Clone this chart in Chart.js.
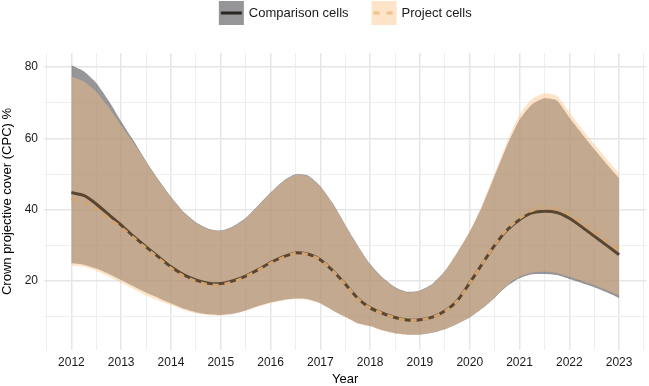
<!DOCTYPE html>
<html>
<head>
<meta charset="utf-8">
<script src="https://cdn.jsdelivr.net/npm/chart.js@4.4.1/dist/chart.umd.min.js"></script>
<style>
  html, body { margin: 0; padding: 0; background: #ffffff; }
  #wrap { width: 649px; height: 386px; }
</style>
</head>
<body>
<div id="wrap"><canvas id="cpcChart" width="649" height="386"></canvas></div>
<script>
// quarterly time steps
var years = [
  2012, 2012.25, 2012.5, 2012.75, 2013, 2013.25, 2013.5, 2013.75,
  2014, 2014.25, 2014.5, 2014.75, 2015, 2015.25, 2015.5, 2015.75,
  2016, 2016.25, 2016.5, 2016.75, 2017, 2017.25, 2017.5, 2017.75,
  2018, 2018.25, 2018.5, 2018.75, 2019, 2019.25, 2019.5, 2019.75,
  2020, 2020.25, 2020.5, 2020.75, 2021, 2021.25, 2021.5, 2021.75,
  2022, 2022.25, 2022.5, 2022.75, 2023
];

var comparisonMean = [
  44.8, 44.0, 41.6, 38.6, 35.7, 32.5, 29.6, 26.8,
  24.0, 21.8, 20.3, 19.4, 19.3, 20.1, 21.4, 23.2,
  25.2, 26.8, 27.9, 27.6, 26.0, 22.9, 19.2, 15.2,
  12.5, 11.0, 9.8, 9.1, 9.2, 9.9, 11.6, 14.5,
  19.5, 24.8, 30.0, 34.3, 37.2, 39.1, 39.6, 39.2,
  37.6, 35.2, 32.6, 30.0, 27.4
];
var comparisonUpper = [
  80.5, 78.8, 75.5, 70.5, 64.7, 59.3, 53.6, 48.4,
  43.6, 39.4, 36.5, 34.7, 34.2, 35.4, 37.7, 41.2,
  44.8, 48.0, 49.9, 49.6, 46.6, 41.8, 35.8, 30.0,
  24.8, 21.0, 18.3, 17.0, 17.4, 19.2, 22.8, 28.0,
  33.8, 41.0, 49.5, 58.0, 65.2, 69.5, 71.2, 70.6,
  65.8, 61.3, 57.0, 52.8, 48.8
];
var comparisonLower = [
  25.0, 24.6, 23.5, 22.0, 20.3, 18.5, 16.8, 15.3,
  13.8, 12.3, 11.3, 10.7, 10.5, 10.9, 11.8, 13.0,
  14.0, 14.7, 15.1, 14.9, 13.8, 11.8, 10.0, 8.2,
  7.4, 6.2, 5.4, 5.0, 5.0, 5.5, 6.5, 8.0,
  9.8, 12.3, 15.3, 18.6, 20.8, 21.9, 22.0, 21.7,
  20.6, 19.5, 18.3, 16.9, 15.3
];

var projectMean = [
  43.0, 42.2, 40.2, 37.6, 35.0, 32.1, 29.2, 26.4,
  23.6, 21.4, 19.9, 19.0, 18.9, 19.8, 21.2, 23.0,
  25.0, 26.6, 27.8, 27.5, 25.9, 22.8, 19.1, 15.1,
  12.4, 10.9, 9.7, 9.0, 9.1, 9.8, 11.5, 14.4,
  19.4, 24.8, 30.1, 34.6, 37.6, 39.8, 40.5, 40.2,
  38.7, 36.4, 34.0, 31.4, 28.8
];
var projectUpper = [
  77.3, 75.9, 73.0, 68.6, 63.6, 58.7, 53.4, 48.2,
  43.4, 39.2, 36.3, 34.5, 34.0, 35.2, 37.5, 41.0,
  44.6, 47.8, 49.7, 49.4, 46.4, 41.6, 35.6, 29.8,
  24.6, 20.8, 18.1, 16.8, 17.2, 19.0, 22.7, 28.0,
  34.0, 41.4, 50.2, 59.0, 66.6, 71.0, 72.6, 71.9,
  67.3, 62.7, 58.4, 54.2, 50.2
];
var projectLower = [
  24.4, 24.0, 22.9, 21.3, 19.6, 17.8, 16.0, 14.6,
  13.3, 11.9, 11.0, 10.5, 10.3, 10.8, 11.7, 12.9,
  13.9, 14.6, 15.0, 14.8, 13.7, 11.7, 9.9, 8.1,
  7.3, 6.1, 5.3, 4.9, 5.0, 5.5, 6.5, 8.0,
  9.9, 12.4, 15.5, 18.9, 21.3, 22.4, 22.6, 22.3,
  21.2, 20.1, 18.9, 17.5, 16.0
];

// axis ticks (labels on integers / multiples of 20, the rest are minor grid lines)
var xTickValues = [2011.5, 2012, 2012.5, 2013, 2013.5, 2014, 2014.5, 2015, 2015.5, 2016, 2016.5,
  2017, 2017.5, 2018, 2018.5, 2019, 2019.5, 2020, 2020.5, 2021, 2021.5, 2022, 2022.5, 2023, 2023.5];
var yTickValues = [10, 20, 30, 40, 50, 60, 70, 80];

var legendLabels = ['Comparison cells', 'Project cells'];

var FONT = '"Liberation Sans", Arial, Helvetica, sans-serif';

function pts(vals) {
  return years.map(function(y, i) { return { x: y, y: vals[i] }; });
}

var legendItems = [
  { label: legendLabels[0], fill: '#969698', line: '#2b2621', dash: [] },
  { label: legendLabels[1], fill: '#fde4c8', line: '#f3bf8a', dash: [6, 7] }
];

var ggLegend = {
  id: 'ggLegend',
  afterDraw: function(chart) {
    var ctx = chart.ctx;
    ctx.save();
    ctx.font = '13px ' + FONT;
    var box = 25, gap = 5, spacing = 23;
    var total = 0;
    legendItems.forEach(function(it, i) {
      it.w = ctx.measureText(it.label).width;
      total += box + gap + it.w + (i < legendItems.length - 1 ? spacing : 0);
    });
    var x = (chart.chartArea.left + chart.chartArea.right) / 2 - total / 2;
    var top = 1, h = 24, cy = top + h / 2;
    legendItems.forEach(function(it) {
      ctx.fillStyle = it.fill;
      ctx.fillRect(x, top, box, h);
      ctx.strokeStyle = it.line;
      ctx.lineWidth = 3;
      ctx.setLineDash(it.dash);
      ctx.beginPath();
      ctx.moveTo(x + 2, cy);
      ctx.lineTo(x + box - 2, cy);
      ctx.stroke();
      ctx.setLineDash([]);
      ctx.fillStyle = '#1a1a1a';
      ctx.textBaseline = 'middle';
      ctx.textAlign = 'left';
      ctx.fillText(it.label, x + box + gap, cy);
      x += box + gap + it.w + spacing;
    });
    ctx.restore();
  }
};

var chart = new Chart(document.getElementById('cpcChart'), {
  type: 'line',
  data: {
    datasets: [
      {
        label: 'comparison upper',
        data: pts(comparisonUpper),
        fill: '+1',
        backgroundColor: 'rgba(80, 80, 85, 0.6)',
        borderWidth: 0,
        pointRadius: 0,
        tension: 0.2,
        order: 3
      },
      {
        label: 'comparison lower',
        data: pts(comparisonLower),
        fill: false,
        borderWidth: 0,
        pointRadius: 0,
        tension: 0.2,
        order: 3
      },
      {
        label: 'project upper',
        data: pts(projectUpper),
        fill: '+1',
        backgroundColor: 'rgba(250, 193, 133, 0.45)',
        borderWidth: 0,
        pointRadius: 0,
        tension: 0.2,
        order: 2
      },
      {
        label: 'project lower',
        data: pts(projectLower),
        fill: false,
        borderWidth: 0,
        pointRadius: 0,
        tension: 0.2,
        order: 2
      },
      {
        label: 'Comparison cells',
        data: pts(comparisonMean),
        fill: false,
        borderColor: '#5a4630',
        borderWidth: 3,
        pointRadius: 0,
        tension: 0.2,
        order: 1
      },
      {
        label: 'Project cells',
        data: pts(projectMean),
        fill: false,
        borderColor: '#d2a471',
        borderWidth: 3,
        borderDash: [6, 6],
        pointRadius: 0,
        tension: 0.2,
        order: 0
      }
    ]
  },
  options: {
    animation: false,
    responsive: false,
    devicePixelRatio: 1,
    layout: { padding: { top: 53, left: 0, right: 0, bottom: 0 } },
    plugins: {
      legend: { display: false },
      tooltip: { enabled: false }
    },
    scales: {
      x: {
        type: 'linear',
        min: 2011.45,
        max: 2023.55,
        afterBuildTicks: function(axis) {
          axis.ticks = xTickValues.map(function(v) { return { value: v }; });
        },
        afterFit: function(axis) { axis.height = 36; },
        border: { display: false },
        grid: {
          drawTicks: false,
          color: function(c) { return c.tick && Number.isInteger(c.tick.value) ? '#e6e6e6' : '#eeeeee'; },
          lineWidth: function(c) { return c.tick && Number.isInteger(c.tick.value) ? 1.5 : 1; }
        },
        ticks: {
          autoSkip: false,
          maxRotation: 0,
          padding: 5,
          color: '#1a1a1a',
          font: { family: FONT, size: 12 },
          callback: function(v) { return Number.isInteger(v) ? String(v) : ''; }
        },
        title: {
          display: true,
          text: 'Year',
          color: '#000000',
          font: { family: FONT, size: 13, lineHeight: 1.0 },
          padding: { top: 0, bottom: 0 }
        }
      },
      y: {
        type: 'linear',
        min: 0.7,
        max: 83.9,
        afterBuildTicks: function(axis) {
          axis.ticks = yTickValues.map(function(v) { return { value: v }; });
        },
        afterFit: function(axis) { axis.width = 44; },
        border: { display: false },
        grid: {
          drawTicks: false,
          color: function(c) { return c.tick && c.tick.value % 20 === 0 ? '#e6e6e6' : '#eeeeee'; },
          lineWidth: function(c) { return c.tick && c.tick.value % 20 === 0 ? 1.5 : 1; }
        },
        ticks: {
          padding: 6,
          color: '#1a1a1a',
          font: { family: FONT, size: 12 },
          callback: function(v) { return v % 20 === 0 ? String(v) : ''; }
        },
        title: {
          display: true,
          text: 'Crown projective cover (CPC) %',
          color: '#000000',
          font: { family: FONT, size: 13 },
          padding: { top: 0, bottom: 0 }
        }
      }
    }
  },
  plugins: [ggLegend]
});
</script>
</body>
</html>
